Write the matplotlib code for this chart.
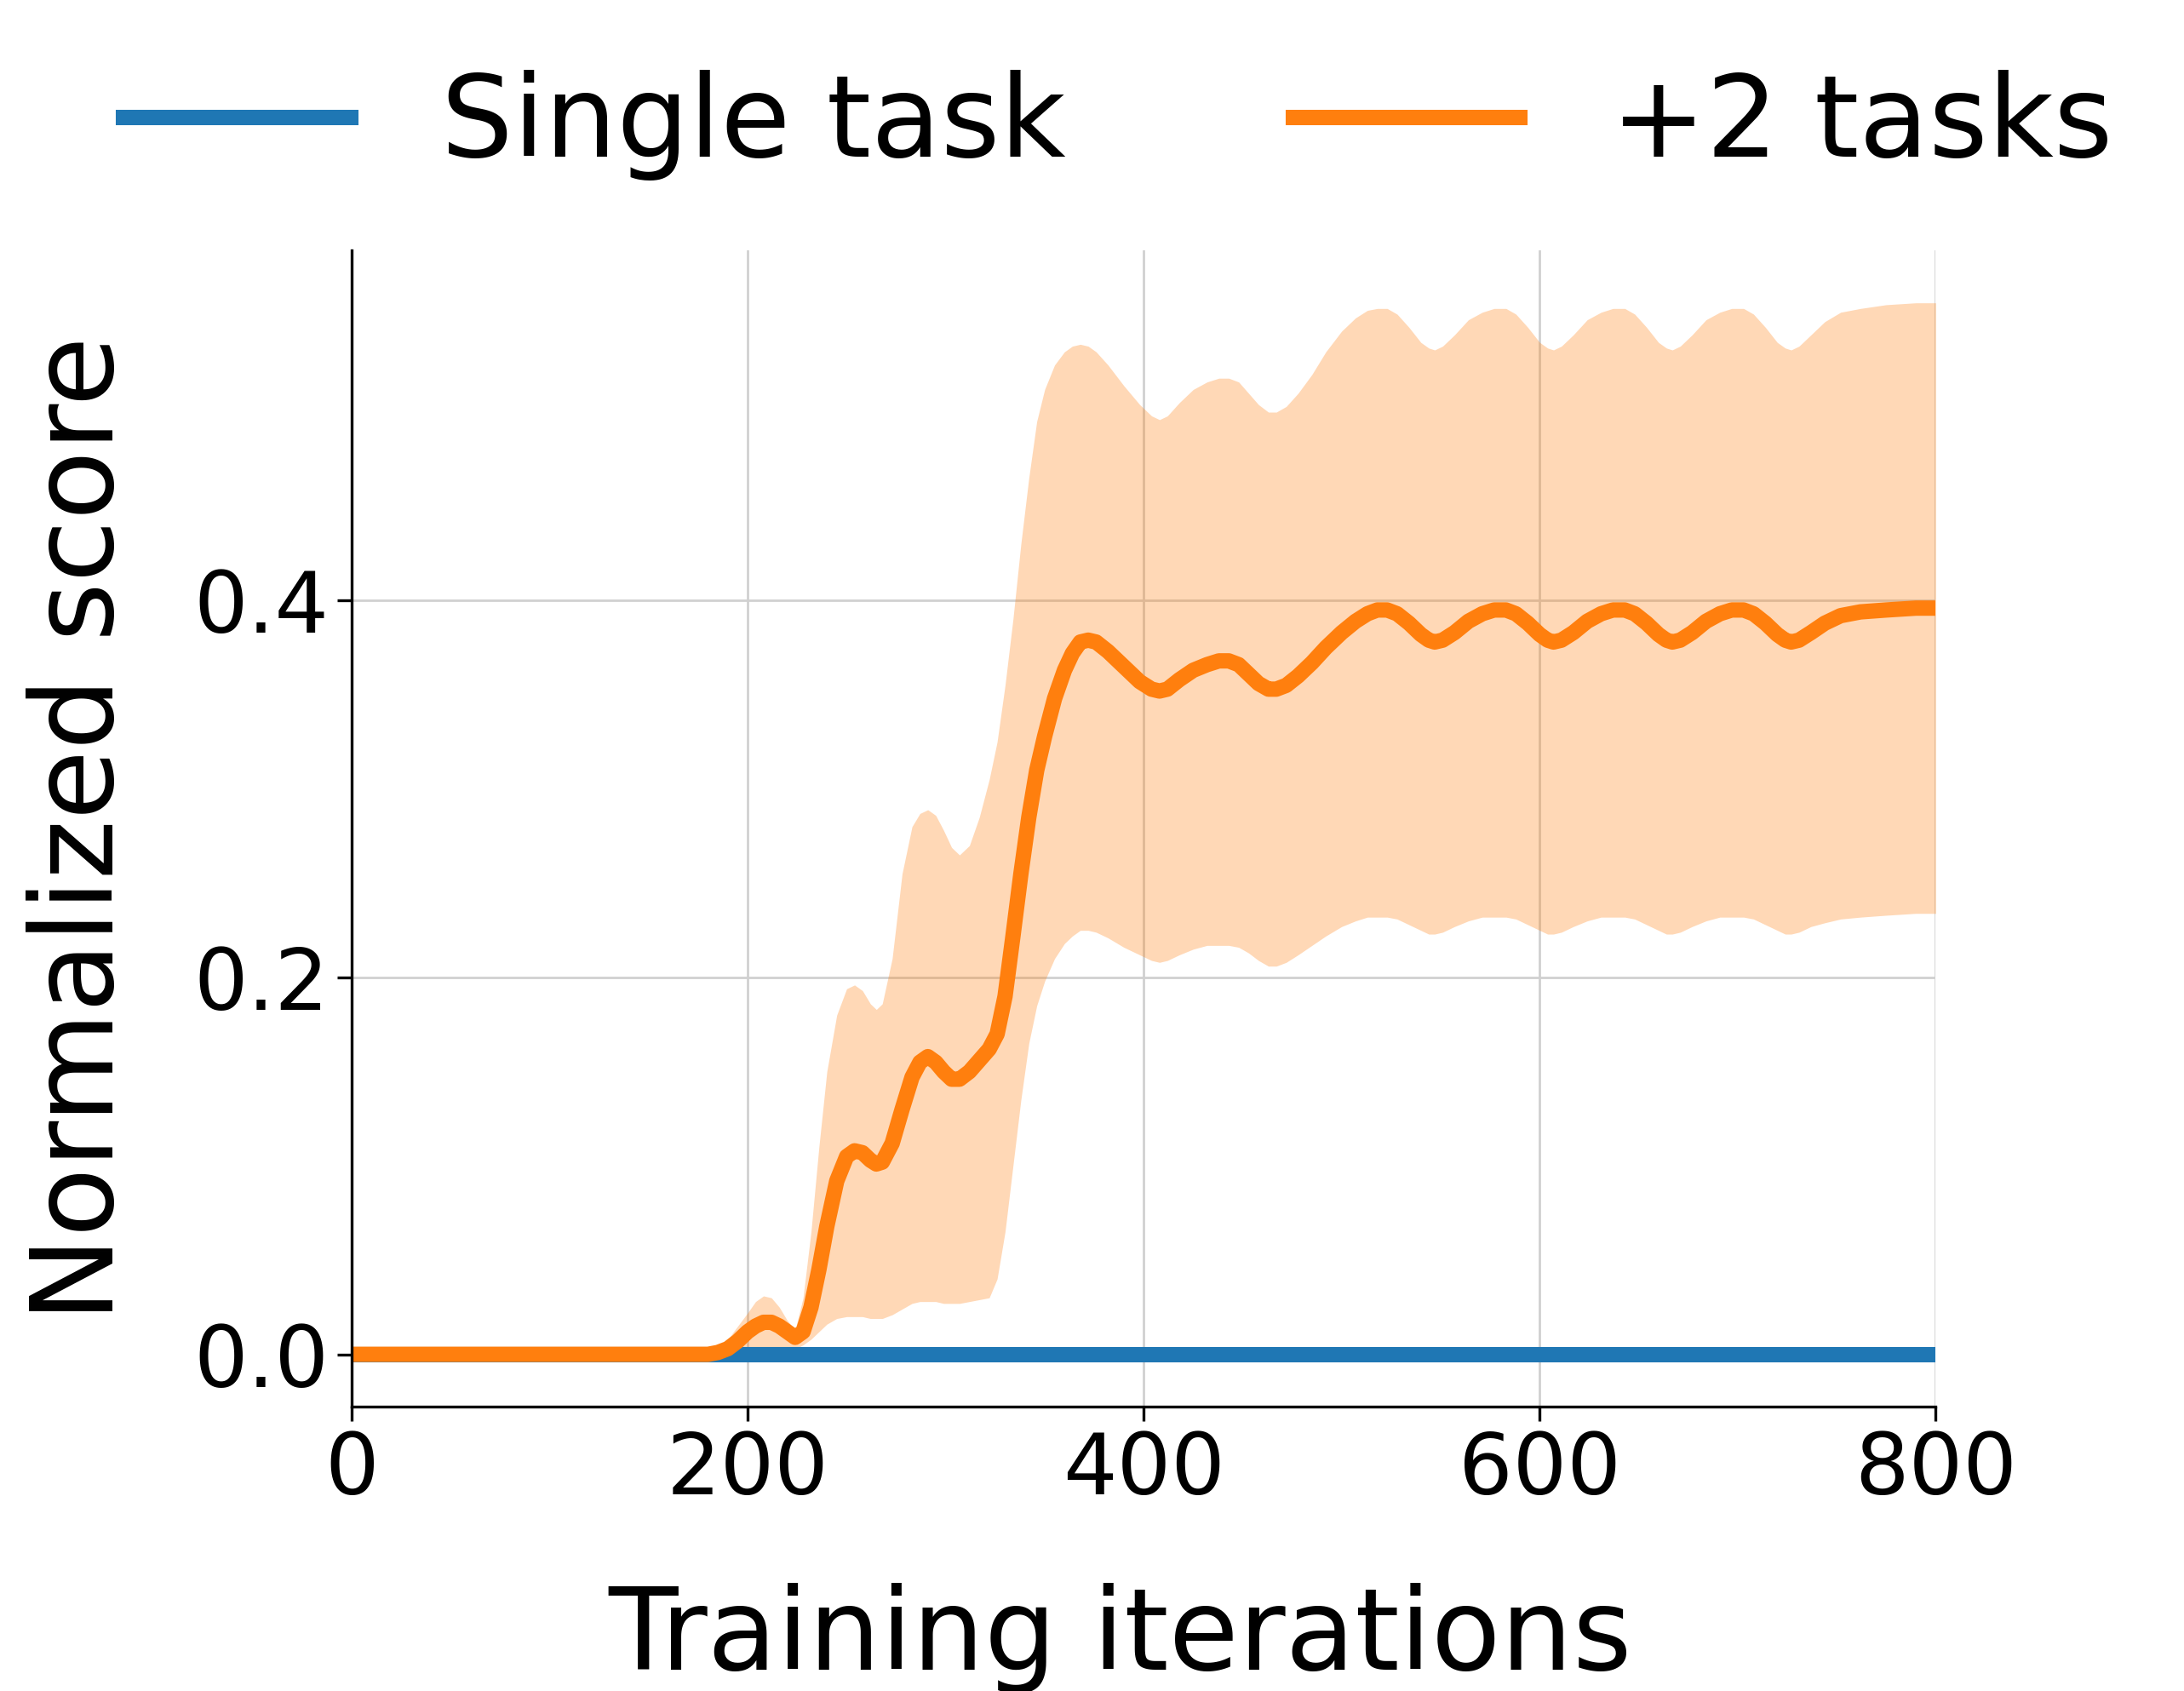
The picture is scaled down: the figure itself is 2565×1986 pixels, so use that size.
import numpy as np
import matplotlib
matplotlib.use("Agg")
import matplotlib.pyplot as plt

# iteraciones de entrenamiento (eje x)
iters = [0, 180, 185, 190, 195, 200, 204, 208, 212, 216, 220, 224, 228, 232, 236, 240, 245,
         250, 254, 258, 262, 265, 268, 273, 278, 283, 287, 291, 295, 299, 303, 307, 312,
         317, 322, 326, 330, 334, 338, 342, 346, 350, 355, 360, 364, 368, 372, 376, 382,
         390, 398, 404, 408, 412, 418, 425, 432, 438, 443, 448, 453, 458, 463, 467, 472,
         478, 485, 492, 500, 507, 513, 518, 523, 528, 534, 540, 544, 547, 551, 557, 564,
         571, 577, 583, 588, 594, 600, 604, 607, 611, 617, 624, 631, 637, 643, 648, 654,
         660, 664, 667, 671, 677, 684, 691, 697, 703, 708, 714, 720, 724, 727, 731, 737,
         744, 752, 762, 775, 790, 800]

# +2 tasks: media
multi_mean = [0.0, 0.0, 0.001, 0.003, 0.007, 0.012, 0.015, 0.017, 0.017, 0.015, 0.012, 0.009, 0.012, 0.025, 0.045, 0.068, 0.092,
              0.105, 0.108, 0.107, 0.103, 0.101, 0.102, 0.112, 0.130, 0.147, 0.155, 0.158, 0.155, 0.150, 0.146, 0.146, 0.150,
              0.156, 0.162, 0.170, 0.190, 0.222, 0.255, 0.285, 0.310, 0.328, 0.348, 0.363, 0.372, 0.378, 0.379, 0.378, 0.373,
              0.365, 0.357, 0.353, 0.352, 0.353, 0.358, 0.363, 0.366, 0.368, 0.368, 0.366, 0.361, 0.356, 0.353, 0.353, 0.355,
              0.360, 0.367, 0.375, 0.383, 0.389, 0.393, 0.395, 0.395, 0.393, 0.388, 0.382, 0.379, 0.378, 0.379, 0.383, 0.389,
              0.393, 0.395, 0.395, 0.393, 0.388, 0.382, 0.379, 0.378, 0.379, 0.383, 0.389, 0.393, 0.395, 0.395, 0.393, 0.388,
              0.382, 0.379, 0.378, 0.379, 0.383, 0.389, 0.393, 0.395, 0.395, 0.393, 0.388, 0.382, 0.379, 0.378, 0.379, 0.383,
              0.388, 0.392, 0.394, 0.395, 0.396, 0.396]

# +2 tasks: banda superior
multi_hi = [0.0, 0.0, 0.003, 0.008, 0.015, 0.022, 0.028, 0.031, 0.030, 0.025, 0.018, 0.013, 0.030, 0.065, 0.110, 0.150, 0.180,
            0.194, 0.196, 0.193, 0.186, 0.183, 0.186, 0.210, 0.255, 0.280, 0.287, 0.289, 0.286, 0.278, 0.269, 0.265, 0.270,
            0.285, 0.305, 0.325, 0.355, 0.390, 0.430, 0.465, 0.495, 0.512, 0.525, 0.532, 0.535, 0.536, 0.535, 0.532, 0.525,
            0.514, 0.504, 0.498, 0.496, 0.498, 0.505, 0.512, 0.516, 0.518, 0.518, 0.516, 0.510, 0.504, 0.500, 0.500, 0.503,
            0.510, 0.520, 0.532, 0.543, 0.550, 0.554, 0.555, 0.555, 0.552, 0.545, 0.537, 0.534, 0.533, 0.535, 0.541, 0.549,
            0.553, 0.555, 0.555, 0.552, 0.545, 0.537, 0.534, 0.533, 0.535, 0.541, 0.549, 0.553, 0.555, 0.555, 0.552, 0.545,
            0.537, 0.534, 0.533, 0.535, 0.541, 0.549, 0.553, 0.555, 0.555, 0.552, 0.545, 0.537, 0.534, 0.533, 0.535, 0.541,
            0.548, 0.553, 0.555, 0.557, 0.558, 0.558]

# +2 tasks: banda inferior
multi_lo = [0.0, 0.0, 0.0, 0.0, 0.001, 0.002, 0.003, 0.003, 0.003, 0.003, 0.003, 0.003, 0.005, 0.008, 0.012, 0.016, 0.019,
            0.020, 0.020, 0.020, 0.019, 0.019, 0.019, 0.021, 0.024, 0.027, 0.028, 0.028, 0.028, 0.027, 0.027, 0.027, 0.028,
            0.029, 0.030, 0.040, 0.065, 0.100, 0.135, 0.165, 0.185, 0.198, 0.210, 0.218, 0.222, 0.225, 0.225, 0.224, 0.221,
            0.216, 0.212, 0.209, 0.208, 0.209, 0.212, 0.215, 0.217, 0.217, 0.217, 0.216, 0.213, 0.209, 0.206, 0.206, 0.208,
            0.212, 0.217, 0.222, 0.227, 0.230, 0.232, 0.232, 0.232, 0.231, 0.228, 0.225, 0.223, 0.223, 0.224, 0.227, 0.230,
            0.232, 0.232, 0.232, 0.231, 0.228, 0.225, 0.223, 0.223, 0.224, 0.227, 0.230, 0.232, 0.232, 0.232, 0.231, 0.228,
            0.225, 0.223, 0.223, 0.224, 0.227, 0.230, 0.232, 0.232, 0.232, 0.231, 0.228, 0.225, 0.223, 0.223, 0.224, 0.227,
            0.229, 0.231, 0.232, 0.233, 0.234, 0.234]

# single task: siempre cero
single_x = [0, 800]
single_y = [0.0, 0.0]

fig = plt.figure(figsize=(12.825, 9.93), dpi=200)
ax = fig.add_axes([0.161, 0.168, 0.7253, 0.684])

ax.plot(single_x, single_y, color='tab:blue', linewidth=6.5, label='Single task')
ax.fill_between(iters, multi_lo, multi_hi, color='tab:orange', alpha=0.3, linewidth=0)
ax.plot(iters, multi_mean, color='tab:orange', linewidth=6.5, label='+2 tasks',
        solid_joinstyle='round')

ax.set_xlim(0, 800)
ax.set_xticks([0, 200, 400, 600, 800])
ax.set_yticks([0.0, 0.2, 0.4])
ax.grid(True, color='#d0d0d0', linewidth=1.0)
ax.set_axisbelow(True)

ax.spines['top'].set_visible(False)
ax.spines['right'].set_visible(False)
ax.spines['left'].set_linewidth(1.2)
ax.spines['bottom'].set_linewidth(1.2)
ax.tick_params(axis='both', labelsize=36, length=6, width=1.2)

ax.set_xlabel('Training iterations', fontsize=48, labelpad=30)
ax.xaxis.label.set_x(0.485)
ax.set_ylabel('Normalized score', fontsize=48, labelpad=24)

fig.legend(loc='upper center', bbox_to_anchor=(0.512, 1.019), ncol=2, frameon=False,
           fontsize=48, handlelength=2.0, columnspacing=2.0)

fig.savefig('out.png', dpi=200)
